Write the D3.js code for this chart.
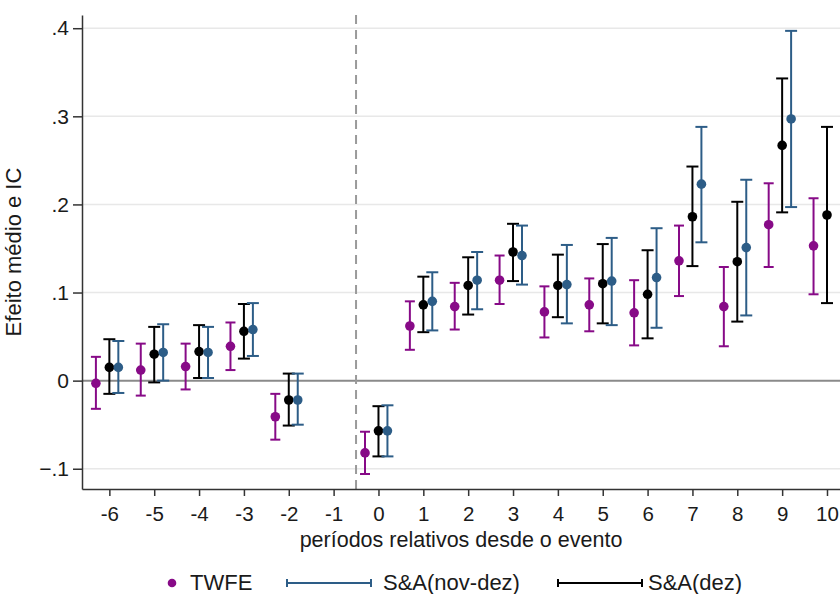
<!DOCTYPE html>
<html>
<head>
<meta charset="utf-8">
<script src="https://cdn.jsdelivr.net/npm/d3@7"></script>
<style>
  body { margin: 0; background: #fff; }
  svg { display: block; font-family: "Liberation Sans", Arial, sans-serif; }
  .axis path, .axis line { stroke: #333; stroke-width: 1.5; }
  .axis text { fill: #1a1a1a; font-size: 21px; font-family: "Liberation Sans", Arial, sans-serif; }
  .axis.x text { font-size: 20.5px; }
</style>
</head>
<body>
<svg id="chart" width="840" height="594"></svg>
<script>
// periods relative to the event (-1 is the reference period, no estimate)
var periods = [-6, -5, -4, -3, -2, 0, 1, 2, 3, 4, 5, 6, 7, 8, 9, 10];

// TWFE
var twfe   = [-0.003, 0.012, 0.016, 0.039, -0.041, -0.082, 0.062, 0.084, 0.114, 0.078, 0.086, 0.077, 0.136, 0.084, 0.177, 0.153];
var twfeLo = [-0.032, -0.017, -0.010, 0.012, -0.067, -0.106, 0.035, 0.058, 0.087, 0.049, 0.056, 0.040, 0.096, 0.039, 0.129, 0.098];
var twfeHi = [0.027, 0.042, 0.042, 0.066, -0.015, -0.058, 0.090, 0.111, 0.142, 0.107, 0.116, 0.114, 0.176, 0.129, 0.224, 0.207];

// S&A(dez)
var dez   = [0.015, 0.030, 0.033, 0.056, -0.022, -0.057, 0.086, 0.108, 0.146, 0.108, 0.110, 0.098, 0.186, 0.135, 0.267, 0.188];
var dezLo = [-0.015, -0.002, 0.003, 0.025, -0.051, -0.086, 0.055, 0.075, 0.113, 0.072, 0.065, 0.048, 0.130, 0.067, 0.191, 0.088];
var dezHi = [0.047, 0.061, 0.063, 0.087, 0.008, -0.029, 0.118, 0.140, 0.178, 0.143, 0.155, 0.148, 0.243, 0.203, 0.343, 0.288];

// S&A(nov-dez) -- period 10 falls outside the picture
var novdez   = [0.015, 0.032, 0.032, 0.058, -0.022, -0.057, 0.090, 0.114, 0.142, 0.109, 0.113, 0.117, 0.223, 0.151, 0.297, null];
var novdezLo = [-0.014, 0.000, 0.003, 0.028, -0.050, -0.086, 0.057, 0.081, 0.109, 0.065, 0.063, 0.060, 0.157, 0.074, 0.197, null];
var novdezHi = [0.045, 0.064, 0.061, 0.088, 0.008, -0.028, 0.123, 0.146, 0.176, 0.154, 0.162, 0.173, 0.288, 0.228, 0.397, null];

var xTicks = [-6, -5, -4, -3, -2, -1, 0, 1, 2, 3, 4, 5, 6, 7, 8, 9, 10];
var yTicks = [-0.1, 0, 0.1, 0.2, 0.3, 0.4];

var colors = { twfe: "#870a87", novdez: "#2d5d87", dez: "#000000" };

var svg = d3.select("#chart"),
    margin = { top: 15, right: 0, bottom: 105, left: 82 },
    width = 840 - margin.left - margin.right,
    height = 594 - margin.top - margin.bottom;

var g = svg.append("g").attr("transform", "translate(" + margin.left + "," + margin.top + ")");

var x = d3.scaleLinear().domain([-6.61, 10.29]).range([0, width]);
var y = d3.scaleLinear().domain([-0.123, 0.415]).range([height, 0]);

function fmt(d) {
    if (d === 0) return "0";
    return d3.format(".1f")(d).replace("0.", ".");
}

// gridlines
g.selectAll(".grid")
    .data(yTicks.filter(function(d) { return d !== 0; }))
    .enter().append("line")
    .attr("class", "grid")
    .attr("x1", 0).attr("x2", width)
    .attr("y1", function(d) { return y(d); })
    .attr("y2", function(d) { return y(d); })
    .attr("stroke", "#e8e8e8")
    .attr("stroke-width", 1.5);

// zero line
g.append("line")
    .attr("x1", 0).attr("x2", width)
    .attr("y1", y(0)).attr("y2", y(0))
    .attr("stroke", "#8a8a8a")
    .attr("stroke-width", 2);

// event line
g.append("line")
    .attr("x1", x(-0.5)).attr("x2", x(-0.5))
    .attr("y1", 0).attr("y2", height)
    .attr("stroke", "#9a9a9a")
    .attr("stroke-width", 2)
    .attr("stroke-dasharray", "9,6");

var yAxis = g.append("g").attr("class", "axis y")
    .call(d3.axisLeft(y).tickValues(yTicks).tickFormat(fmt).tickSize(9).tickPadding(4).tickSizeOuter(0));

var xAxis = g.append("g").attr("class", "axis x")
    .attr("transform", "translate(0," + height + ")")
    .call(d3.axisBottom(x).tickValues(xTicks).tickFormat(d3.format("d")).tickSize(7).tickPadding(10).tickSizeOuter(0));

xAxis.selectAll("text").text(function(d) { return d < 0 ? "-" + Math.abs(d) : d; });

// series
var series = [
    { key: "twfe", offset: -0.3, est: twfe, lo: twfeLo, hi: twfeHi, cap: 10 },
    { key: "dez", offset: 0, est: dez, lo: dezLo, hi: dezHi, cap: 12 },
    { key: "novdez", offset: 0.2, est: novdez, lo: novdezLo, hi: novdezHi, cap: 12 }
];

series.forEach(function(s) {
    var rows = periods.map(function(p, i) {
        return { p: p, est: s.est[i], lo: s.lo[i], hi: s.hi[i] };
    }).filter(function(d) { return d.est !== null; });

    var sg = g.append("g").attr("class", "series-" + s.key);
    var col = colors[s.key];

    sg.selectAll(".ci")
        .data(rows)
        .enter().append("line")
        .attr("x1", function(d) { return x(d.p + s.offset); })
        .attr("x2", function(d) { return x(d.p + s.offset); })
        .attr("y1", function(d) { return y(d.lo); })
        .attr("y2", function(d) { return y(d.hi); })
        .attr("stroke", col).attr("stroke-width", 2);

    ["lo", "hi"].forEach(function(k) {
        sg.selectAll(".cap-" + k)
            .data(rows)
            .enter().append("line")
            .attr("x1", function(d) { return x(d.p + s.offset) - s.cap / 2; })
            .attr("x2", function(d) { return x(d.p + s.offset) + s.cap / 2; })
            .attr("y1", function(d) { return y(d[k]); })
            .attr("y2", function(d) { return y(d[k]); })
            .attr("stroke", col).attr("stroke-width", 2);
    });

    sg.selectAll(".pt")
        .data(rows)
        .enter().append("circle")
        .attr("cx", function(d) { return x(d.p + s.offset); })
        .attr("cy", function(d) { return y(d.est); })
        .attr("r", 4.8)
        .attr("fill", col);
});

// axis titles
svg.append("text")
    .attr("x", margin.left + width / 2)
    .attr("y", 547)
    .attr("text-anchor", "middle")
    .style("font-size", "21.5px")
    .style("fill", "#1a1a1a")
    .text("períodos relativos desde o evento");

svg.append("text")
    .attr("transform", "translate(21," + (margin.top + height / 2) + ") rotate(-90)")
    .attr("text-anchor", "middle")
    .style("font-size", "22px")
    .style("fill", "#1a1a1a")
    .text("Efeito médio e IC");

// legend
var leg = svg.append("g").attr("class", "legend");
var ly = 583;

leg.append("circle").attr("cx", 172).attr("cy", ly).attr("r", 4.3).attr("fill", colors.twfe);
leg.append("text").attr("x", 190).attr("y", 590).style("font-size", "22px").style("fill", "#1a1a1a").text("TWFE");

[{ x0: 287, x1: 371, tx: 383, col: colors.novdez, label: "S&A(nov-dez)" },
 { x0: 558, x1: 642, tx: 648, col: colors.dez, label: "S&A(dez)" }].forEach(function(l) {
    leg.append("line").attr("x1", l.x0).attr("x2", l.x1).attr("y1", ly).attr("y2", ly)
        .attr("stroke", l.col).attr("stroke-width", 2);
    leg.append("line").attr("x1", l.x0).attr("x2", l.x0).attr("y1", ly - 4).attr("y2", ly + 4)
        .attr("stroke", l.col).attr("stroke-width", 2);
    leg.append("line").attr("x1", l.x1).attr("x2", l.x1).attr("y1", ly - 4).attr("y2", ly + 4)
        .attr("stroke", l.col).attr("stroke-width", 2);
    leg.append("text").attr("x", l.tx).attr("y", 590).style("font-size", "22px").style("fill", "#1a1a1a").text(l.label);
});
</script>
</body>
</html>
